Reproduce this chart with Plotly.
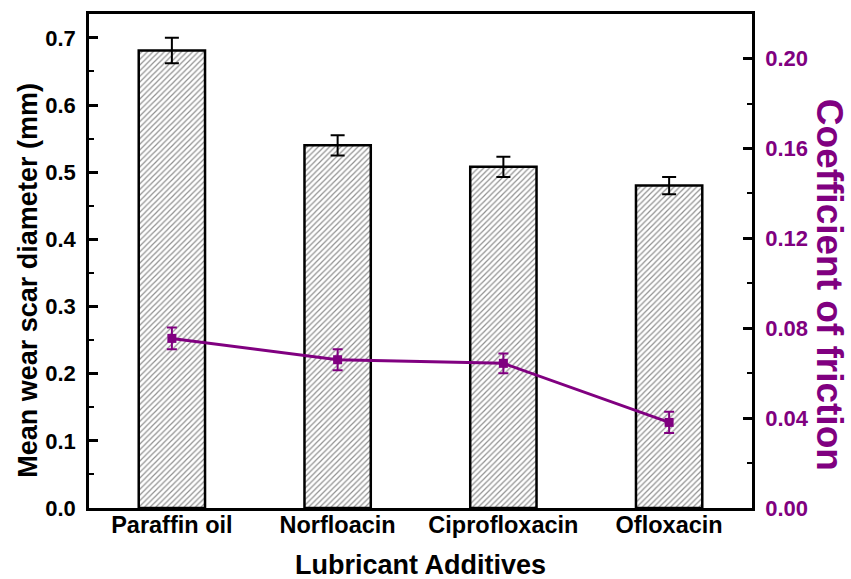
import plotly.graph_objects as go

categories = ["Paraffin oil", "Norfloacin", "Ciprofloxacin", "Ofloxacin"]
wsd = [0.681, 0.540, 0.508, 0.480]
wsd_err = [0.019, 0.015, 0.015, 0.013]
cof = [0.0755, 0.0660, 0.0644, 0.0381]
cof_err = [0.0048, 0.0047, 0.0044, 0.0047]

PURPLE = "#800080"
FONT = "Liberation Sans, Arial, sans-serif"

fig = go.Figure()
fig.add_trace(go.Bar(
    x=categories, y=wsd, width=0.4,
    marker=dict(color="white", line=dict(color="black", width=2.5),
                pattern=dict(shape="/", fgcolor="#222222", bgcolor="white", size=4, solidity=0.3)),
    error_y=dict(type="data", array=wsd_err, color="black", thickness=2, width=7),
    showlegend=False,
))
fig.add_trace(go.Scatter(
    x=categories, y=cof, yaxis="y2", mode="lines+markers",
    line=dict(color=PURPLE, width=3),
    marker=dict(symbol="square", size=9, color=PURPLE),
    error_y=dict(type="data", array=cof_err, color=PURPLE, thickness=2, width=5),
    showlegend=False,
))

fig.update_layout(
    width=851, height=579,
    margin=dict(l=89, r=99, t=11, b=71),
    plot_bgcolor="white", paper_bgcolor="white",
    font=dict(family=FONT),
    xaxis=dict(
        range=[-0.5, 3.5], showline=True, linecolor="black", linewidth=2.5, mirror=True,
        ticks="", tickfont=dict(family=FONT, size=23.5, color="black", weight="bold"),
        ticklabelstandoff=-6,
        showgrid=False, zeroline=False,
    ),
    yaxis=dict(
        range=[0, 0.7355], dtick=0.1, tickformat=".1f",
        showline=True, linecolor="black", linewidth=2.5,
        ticks="inside", ticklen=9, tickwidth=2.5, tickcolor="black",
        minor=dict(ticks="inside", ticklen=5, tickwidth=2, tickcolor="black", dtick=0.05),
        tickfont=dict(family=FONT, size=22, color="black", weight="bold"),
        ticklabelstandoff=6,
        showgrid=False, zeroline=False,
    ),
    yaxis2=dict(
        overlaying="y", side="right", range=[0, 0.2199], dtick=0.04, tickformat=".2f",
        showline=True, linecolor="black", linewidth=2.5,
        ticks="inside", ticklen=9, tickwidth=2.5, tickcolor="black",
        minor=dict(ticks="inside", ticklen=5, tickwidth=2, tickcolor="black", dtick=0.02),
        tickfont=dict(family=FONT, size=22, color=PURPLE, weight="bold"),
        ticklabelstandoff=6,
        showgrid=False, zeroline=False,
    ),
    annotations=[
        dict(text="<b>Coefficient of friction</b>", xref="paper", yref="paper",
             x=1.116, y=0.452, xanchor="center", yanchor="middle", textangle=90, showarrow=False,
             font=dict(family=FONT, size=37, color=PURPLE)),
        dict(text="<b>Mean wear scar diameter (mm)</b>", xref="paper", yref="paper",
             x=-0.092, y=0.46, xanchor="center", yanchor="middle", textangle=-90, showarrow=False,
             font=dict(family=FONT, size=27, color="black")),
        dict(text="<b>Lubricant Additives</b>", xref="paper", yref="paper",
             x=0.5, y=-0.115, xanchor="center", yanchor="middle", showarrow=False,
             font=dict(family=FONT, size=27, color="black")),
    ],
)

fig.write_html("out.html")
